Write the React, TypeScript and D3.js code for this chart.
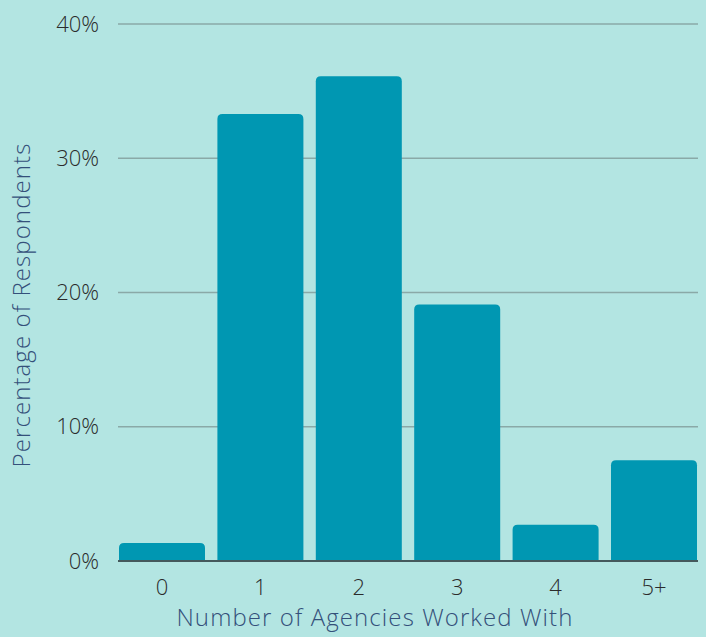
import React, { useEffect, useRef } from 'react';
import * as d3 from 'd3';

const categories = ['0', '1', '2', '3', '4', '5+'];
const percentages = [1.35, 33.3, 36.1, 19.1, 2.7, 7.5];
const yTicks = [0, 10, 20, 30, 40];

const W = 706;
const H = 637;

const App = () => {
  const svgRef = useRef<SVGSVGElement | null>(null);

  useEffect(() => {
    const svg = d3.select(svgRef.current);
    svg.selectAll('*').remove();

    const margin = { top: 24, right: 8, bottom: 76, left: 118 };
    const innerW = W - margin.left - margin.right;
    const innerH = H - margin.top - margin.bottom;

    svg.append('rect').attr('width', W).attr('height', H).attr('fill', '#b3e5e2');

    const g = svg.append('g').attr('transform', `translate(${margin.left},${margin.top})`);

    const x = d3.scaleBand().domain(categories).range([1, innerW - 1]).paddingInner(0.126).paddingOuter(0);
    const y = d3.scaleLinear().domain([0, 40]).range([innerH, 0]);

    // gridlines
    g.selectAll('line.grid')
      .data(yTicks.filter(t => t > 0))
      .enter().append('line')
      .attr('x1', 0).attr('x2', innerW)
      .attr('y1', d => y(d)).attr('y2', d => y(d))
      .attr('stroke', '#8aa9a7').attr('stroke-width', 1.5);

    // y tick labels
    g.selectAll('text.ytick')
      .data(yTicks)
      .enter().append('text')
      .attr('x', -19)
      .attr('y', d => y(d))
      .attr('dy', '0.35em')
      .attr('text-anchor', 'end')
      .style('font-family', '"Open Sans", sans-serif')
      .style('font-weight', 300)
      .style('font-size', '22px')
      .attr('fill', '#2b2b2b')
      .text(d => `${d}%`);

    // bars with rounded top corners
    const r = 5;
    const barPath = (d: number, i: number) => {
      const x0 = x(categories[i]) as number;
      const w = x.bandwidth();
      const y0 = y(d);
      const yb = y(0);
      const rr = Math.min(r, (yb - y0));
      return `M${x0},${yb}V${y0 + rr}Q${x0},${y0} ${x0 + rr},${y0}H${x0 + w - rr}Q${x0 + w},${y0} ${x0 + w},${y0 + rr}V${yb}Z`;
    };
    g.selectAll('path.bar')
      .data(percentages)
      .enter().append('path')
      .attr('d', (d, i) => barPath(d, i))
      .attr('fill', '#0097b2');

    // baseline
    g.append('line')
      .attr('x1', 0).attr('x2', innerW)
      .attr('y1', y(0)).attr('y2', y(0))
      .attr('stroke', '#44595c').attr('stroke-width', 2);

    // x tick labels
    g.selectAll('text.xtick')
      .data(categories)
      .enter().append('text')
      .attr('x', d => (x(d) as number) + x.bandwidth() / 2)
      .attr('y', innerH + 34)
      .attr('text-anchor', 'middle')
      .style('font-family', '"Open Sans", sans-serif')
      .style('font-weight', 300)
      .style('font-size', '22px')
      .attr('fill', '#2b2b2b')
      .text(d => d);

    // axis titles
    svg.append('text')
      .attr('x', 375)
      .attr('y', 626)
      .attr('text-anchor', 'middle')
      .style('font-family', '"Open Sans", sans-serif')
      .style('font-weight', 300)
      .style('font-size', '24px')
      .style('letter-spacing', '1.1px')
      .attr('fill', '#34507a')
      .text('Number of Agencies Worked With');

    svg.append('text')
      .attr('transform', 'translate(30,305) rotate(-90)')
      .attr('text-anchor', 'middle')
      .style('font-family', '"Open Sans", sans-serif')
      .style('font-weight', 300)
      .style('font-size', '24px')
      .style('letter-spacing', '1.1px')
      .attr('fill', '#34507a')
      .text('Percentage of Respondents');
  }, []);

  return (
    <svg ref={svgRef} width={W} height={H} style={{ position: 'absolute', left: 0, top: 0 }} />
  );
};

export default App;
